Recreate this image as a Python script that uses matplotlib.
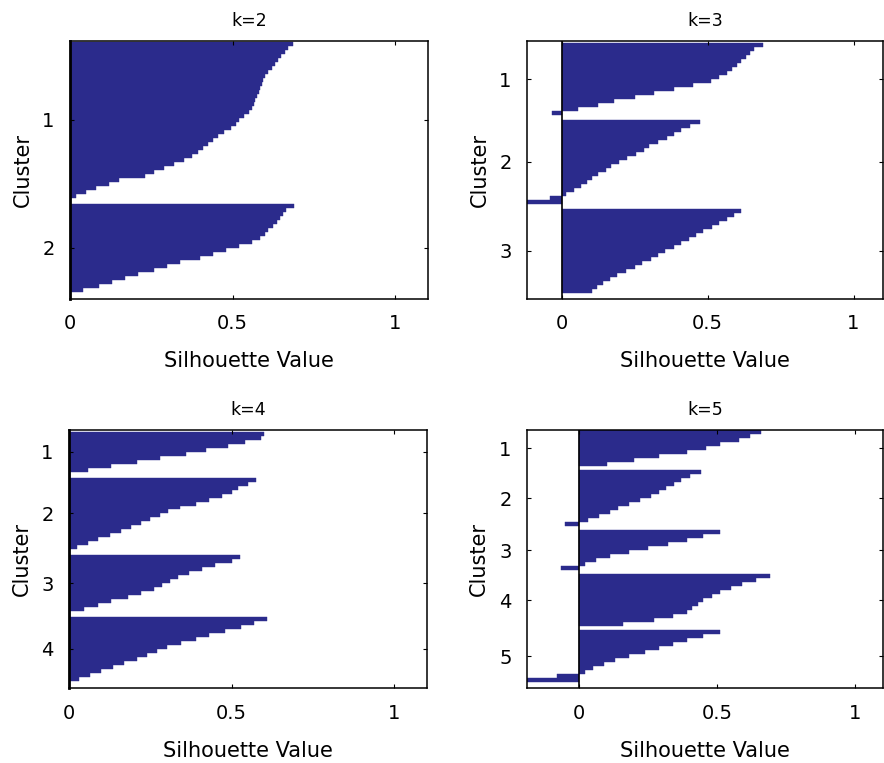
import matplotlib
matplotlib.use('Agg')
import matplotlib.pyplot as plt
import numpy as np

# silhouette values per cluster, sorted from largest to smallest
k2_c1 = [0.685, 0.67, 0.66, 0.65, 0.64, 0.63, 0.62, 0.61, 0.60, 0.595, 0.59, 0.585, 0.58,
         0.575, 0.57, 0.565, 0.56, 0.55, 0.535, 0.52, 0.51, 0.495, 0.475, 0.455, 0.44,
         0.425, 0.41, 0.395, 0.375, 0.35, 0.32, 0.29, 0.26, 0.23, 0.15, 0.12, 0.08, 0.05, 0.02]
k2_c2 = [0.69, 0.665, 0.655, 0.645, 0.635, 0.625, 0.61, 0.60, 0.585, 0.56, 0.52, 0.48,
         0.44, 0.40, 0.34, 0.30, 0.26, 0.21, 0.17, 0.13, 0.09, 0.04]

k3_c1 = [0.69, 0.66, 0.645, 0.63, 0.615, 0.60, 0.585, 0.565, 0.54, 0.51, 0.45, 0.386,
         0.317, 0.25, 0.18, 0.123, 0.055, -0.035]
k3_c2 = [0.475, 0.44, 0.41, 0.385, 0.36, 0.33, 0.30, 0.28, 0.255, 0.225, 0.195, 0.17,
         0.15, 0.125, 0.105, 0.085, 0.065, 0.04, 0.015, -0.04, -0.12]
k3_c3 = [0.615, 0.59, 0.565, 0.54, 0.515, 0.485, 0.46, 0.435, 0.41, 0.385, 0.355, 0.33,
         0.305, 0.275, 0.25, 0.22, 0.19, 0.165, 0.14, 0.12, 0.105]

k4_c1 = [0.60, 0.59, 0.54, 0.49, 0.42, 0.36, 0.28, 0.21, 0.13, 0.06]
k4_c2 = [0.575, 0.55, 0.52, 0.50, 0.47, 0.43, 0.39, 0.34, 0.305, 0.28, 0.25, 0.22,
         0.19, 0.16, 0.125, 0.09, 0.06, 0.025]
k4_c3 = [0.525, 0.50, 0.45, 0.41, 0.37, 0.335, 0.31, 0.285, 0.26, 0.22, 0.18, 0.13,
         0.09, 0.045]
k4_c4 = [0.61, 0.57, 0.53, 0.48, 0.43, 0.39, 0.345, 0.30, 0.27, 0.24, 0.21, 0.17,
         0.135, 0.10, 0.065, 0.03]

k5_c1 = [0.66, 0.62, 0.58, 0.51, 0.46, 0.39, 0.29, 0.20, 0.10]
k5_c2 = [0.44, 0.40, 0.37, 0.345, 0.315, 0.29, 0.26, 0.22, 0.18, 0.14, 0.11, 0.07,
         0.03, -0.05]
k5_c3 = [0.51, 0.45, 0.39, 0.32, 0.25, 0.18, 0.11, 0.06, 0.02, -0.065]
k5_c4 = [0.69, 0.64, 0.59, 0.55, 0.51, 0.48, 0.45, 0.43, 0.41, 0.39, 0.34, 0.27, 0.16]
k5_c5 = [0.51, 0.45, 0.39, 0.34, 0.29, 0.24, 0.18, 0.13, 0.09, 0.05, 0.02, -0.08, -0.19]

titles = ['k=2', 'k=3', 'k=4', 'k=5']
clusters = [[k2_c1, k2_c2],
            [k3_c1, k3_c2, k3_c3],
            [k4_c1, k4_c2, k4_c3, k4_c4],
            [k5_c1, k5_c2, k5_c3, k5_c4, k5_c5]]

# layout: axes rect, top padding and gap between clusters (in bar units)
rects = [[0.079, 0.608, 0.405, 0.338],
         [0.596, 0.608, 0.4025, 0.338],
         [0.078, 0.098, 0.405, 0.338],
         [0.596, 0.098, 0.4025, 0.338]]
tops = [0.2, 0.5, 0.4, 0.0]
gaps = [1.5, 1.2, 1.4, 1.0]
total = 64.5
BLUE = '#2b2b8c'

fig = plt.figure(figsize=(8.84, 7.63), dpi=100)

for title, cl, rect, top, gap in zip(titles, clusters, rects, tops, gaps):
    ax = fig.add_axes(rect)
    pos = top
    ticks = []
    allv = []
    for vals in cl:
        y = pos + 0.5 + np.arange(len(vals))
        ax.barh(y, vals, height=1.0, color=BLUE, edgecolor=BLUE, linewidth=0.3)
        ticks.append(pos + len(vals) / 2)
        allv += vals
        pos += len(vals) + gap
    xmin = min(0, min(allv))
    if xmin < 0:
        ax.axvline(0, color='black', lw=1.2)
    else:
        ax.spines['left'].set_linewidth(2)
    ax.set_xlim(xmin, 1.1)
    ax.set_ylim(total, 0)
    ax.set_xticks([0, 0.5, 1])
    ax.set_xticklabels(['0', '0.5', '1'])
    ax.set_yticks(ticks)
    ax.set_yticklabels([str(i + 1) for i in range(len(cl))])
    ax.tick_params(direction='in', top=True, right=True, length=3, width=0.8,
                   labelsize=14, pad=11)
    for name, s in ax.spines.items():
        if name != 'left' or xmin < 0:
            s.set_linewidth(1.1)
    ax.set_xlabel('Silhouette Value', fontsize=15, labelpad=13)
    ax.set_ylabel('Cluster', fontsize=15, labelpad=7)
    ax.set_title(title, fontsize=12.5, pad=11)

fig.savefig('out.png', dpi=100)
